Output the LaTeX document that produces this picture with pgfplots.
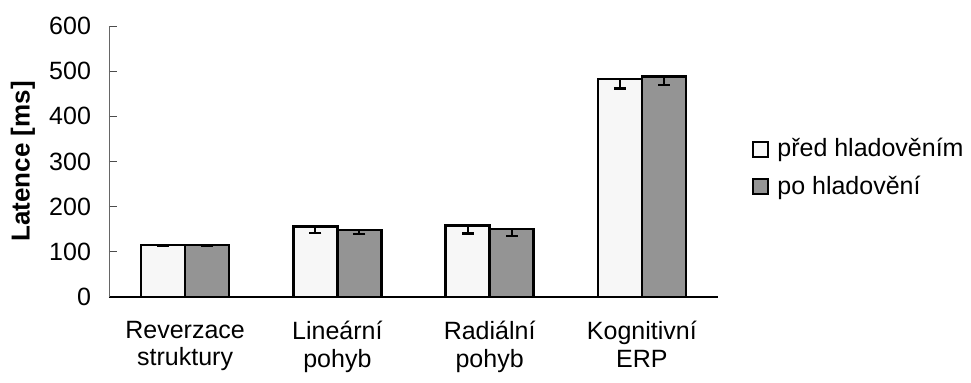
\documentclass[border=0pt]{standalone}
\usepackage{pgfplots}
\pgfplotsset{compat=1.18}
\usepackage{fontspec}
\setmainfont{Liberation Sans}
\begin{document}
\begin{tikzpicture}
\path[use as bounding box] (-54.5pt,-43pt) rectangle (431pt,148.5pt);
\begin{axis}[
  at={(0,0)}, anchor=south west,
  scale only axis, width=304.5pt, height=135.5pt,
  ybar=0pt, bar width=22pt,
  xmin=-0.5, xmax=3.5, ymin=0, ymax=600,
  axis lines*=left,
  x axis line style={black, line width=0.6pt},
  y axis line style={black!60, line width=0.4pt},
  xtick={0,1,2,3},
  xticklabels={{Reverzace\\struktury},{Lineární\\pohyb},{Radiální\\pohyb},{Kognitivní\\ERP}},
  xtick style={draw=none},
  xticklabel style={align=center, font=\fontsize{12.5}{13.8}\selectfont, yshift=-8.5pt},
  ytick={0,100,...,600},
  tick align=inside,
  major tick length=4pt,
  ytick style={black!70, line width=0.4pt},
  yticklabel style={font=\fontsize{12.5}{14}\selectfont, xshift=-5.5pt},
  /pgf/number format/assume math mode=true,
  ylabel={Latence [ms]},
  ylabel style={font=\bfseries\fontsize{13}{15}\selectfont, at={(axis description cs:-0.1412,0.5)}, anchor=center},
  error bars/error bar style={line width=1pt, black},
  error bars/error mark options={rotate=90, mark size=3pt, line width=1.2pt, black},
  legend style={at={(1.0558,0.476)}, anchor=west, draw=none, fill=none, inner sep=0pt,
    font=\fontsize{12.5}{14}\selectfont, row sep=5pt,
    nodes={inner sep=1.5pt},
    /tikz/every odd column/.append style={column sep=2.5pt}},
  legend cell align=left,
  legend image code/.code={\draw[#1, line width=1pt] (0pt,-3.75pt) rectangle (7.5pt,3.75pt);},
]
\addplot[draw=black, line width=1.2pt, fill=gray!6,
  error bars/.cd, y dir=minus, y explicit]
  coordinates {(0,115) -= (0,2) (1,156) -= (0,14) (2,158) -= (0,17) (3,483) -= (0,21)};
\addlegendentry{před hladověním}
\addplot[draw=black, line width=1.2pt, fill=black!42,
  error bars/.cd, y dir=minus, y explicit]
  coordinates {(0,115) -= (0,2) (1,148) -= (0,9) (2,150) -= (0,15) (3,488) -= (0,19)};
\addlegendentry{po hladovění}
\end{axis}
\end{tikzpicture}
\end{document}
